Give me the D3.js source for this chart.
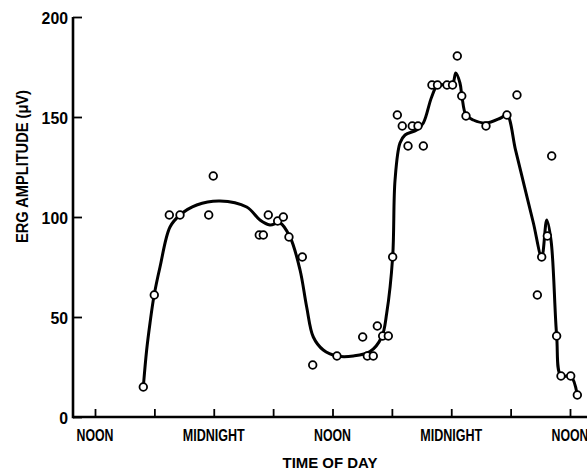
<!DOCTYPE html>
<html>
<head>
<meta charset="utf-8">
<script src="https://cdn.jsdelivr.net/npm/d3@7"></script>
<style>
  html, body { margin: 0; padding: 0; background: #fff; }
  svg text { font-family: "Liberation Sans Narrow", "Liberation Sans", Arial, sans-serif; font-weight: bold; fill: #000; }
</style>
</head>
<body>
<svg id="chart" width="587" height="473"></svg>
<script>
// Observed ERG amplitudes: hours after the first noon, amplitude in µV
const sampleHours = [4.88, 5.99, 7.51, 8.59, 11.49, 11.95, 16.60, 17.01, 17.51, 18.46, 19.03, 19.60,
  20.95, 22.0, 24.45, 27.05, 27.52, 28.12, 28.53, 29.07, 29.64, 30.08, 30.55, 31.05, 31.63, 32.06,
  32.64, 33.18, 34.05, 34.61, 35.57, 36.13, 36.61, 37.06, 37.49, 39.51, 41.63, 42.64, 44.70, 45.14,
  45.71, 46.15, 46.65, 47.09, 48.07, 48.74];
const sampleAmps = [15, 61, 101, 101, 101, 120.5, 91, 91, 101, 98, 100, 90,
  80, 26, 30.5, 40, 30.5, 30.5, 45.5, 40.5, 40.5, 80, 151, 145.5, 135.5, 145.5,
  145.5, 135.5, 166, 166, 166, 166, 180.5, 160.5, 150.5, 145.5, 151, 161, 61, 80,
  90.5, 130.5, 40.5, 20.5, 20.5, 11];

// Hand-fitted trend curve through the observations
const fitHours = [4.88, 5.22, 5.56, 5.96, 6.57, 7.58, 8.59, 10.28, 12.63, 15.33, 16.67, 17.68, 18.69,
  19.71, 20.72, 21.39, 22.06, 23.07, 24.45, 26.1, 27.79, 28.97, 29.48, 30.08, 30.32, 30.82, 31.33,
  32.51, 33.18, 34.02, 34.66, 36.07, 36.46, 36.88, 37.09, 37.49, 38.23, 39.51, 41.0, 41.63, 42.5,
  43.4, 44.3, 45.14, 45.65, 46.09, 46.65, 47.09, 48.07, 48.74];
const fitAmps = [15, 33.5, 47, 60.5, 75, 95, 101, 106, 108, 105, 98.5, 96, 97,
  90, 73.5, 55, 40, 33.5, 30.5, 30.5, 32.7, 40, 52, 80, 118.5, 137, 141,
  143.5, 147, 160, 166, 166, 172, 167, 160, 151, 148.5, 147, 149.5, 151, 133.4,
  115.2, 97.0, 80, 98.5, 88, 40.7, 20.5, 20.5, 11];

const xTickHours = [0, 6, 12, 18, 24, 30, 36, 42, 48];
const xTickLabels = {0: "NOON", 12: "MIDNIGHT", 24: "NOON", 36: "MIDNIGHT", 48: "NOON"};
const yTicks = [0, 50, 100, 150, 200];

const svg = d3.select("#chart");
const axisX0 = 73, axisXEnd = 587;

const x = d3.scaleLinear().domain([0, 48]).range([95, 570]);
const y = d3.scaleLinear().domain([0, 200]).range([417, 17]);

// axis lines
svg.append("line")
  .attr("x1", axisX0).attr("x2", axisXEnd)
  .attr("y1", y(0)).attr("y2", y(0))
  .attr("stroke", "#000").attr("stroke-width", 2.6);
svg.append("line")
  .attr("x1", axisX0).attr("x2", axisX0)
  .attr("y1", y(0) + 1.3).attr("y2", y(200))
  .attr("stroke", "#000").attr("stroke-width", 2.6);

// x axis ticks pointing inward
const xAxis = svg.append("g").attr("transform", `translate(0,${y(0)})`)
  .call(d3.axisBottom(x).tickValues(xTickHours).tickSize(-8).tickFormat(""));
xAxis.select(".domain").remove();
xAxis.selectAll(".tick line").attr("stroke", "#000").attr("stroke-width", 1.8);

svg.append("g").selectAll("text")
  .data(xTickHours.filter(h => xTickLabels[h]))
  .join("text")
  .attr("x", d => x(d))
  .attr("y", y(0) + 24)
  .attr("text-anchor", "middle")
  .attr("font-size", 16)
  .attr("textLength", d => xTickLabels[d] === "NOON" ? 37 : 62)
  .attr("lengthAdjust", "spacingAndGlyphs")
  .text(d => xTickLabels[d]);

// y axis ticks pointing inward
const yAxis = svg.append("g").attr("transform", `translate(${axisX0},0)`)
  .call(d3.axisRight(y).tickValues(yTicks).tickSize(9).tickFormat(""));
yAxis.select(".domain").remove();
yAxis.selectAll(".tick line").attr("stroke", "#000").attr("stroke-width", 1.8);

svg.append("g").selectAll("text")
  .data(yTicks)
  .join("text")
  .attr("x", axisX0 - 5)
  .attr("y", d => y(d) + 7)
  .attr("text-anchor", "end")
  .attr("font-size", 16)
  .attr("textLength", d => String(d).length * 8.8)
  .attr("lengthAdjust", "spacingAndGlyphs")
  .text(d => d);

// axis titles
svg.append("text")
  .attr("x", 330).attr("y", 468)
  .attr("text-anchor", "middle")
  .attr("font-size", 15)
  .attr("textLength", 95)
  .attr("lengthAdjust", "spacingAndGlyphs")
  .text("TIME OF DAY");

svg.append("text")
  .attr("transform", "translate(28,166.5) rotate(-90)")
  .attr("text-anchor", "middle")
  .attr("font-size", 16)
  .attr("textLength", 153)
  .attr("lengthAdjust", "spacingAndGlyphs")
  .text("ERG AMPLITUDE (\u03BCV)");

// trend curve
const fit = fitHours.map((h, i) => [h, fitAmps[i]]);
svg.append("path")
  .datum(fit)
  .attr("fill", "none")
  .attr("stroke", "#000")
  .attr("stroke-width", 3)
  .attr("stroke-linejoin", "round")
  .attr("d", d3.line().x(d => x(d[0])).y(d => y(d[1])).curve(d3.curveCatmullRom.alpha(0.5)));

// observations as open circles
const samples = sampleHours.map((h, i) => [h, sampleAmps[i]]);
svg.append("g").selectAll("circle")
  .data(samples)
  .join("circle")
  .attr("cx", d => x(d[0]))
  .attr("cy", d => y(d[1]))
  .attr("r", 3.8)
  .attr("fill", "#fff")
  .attr("stroke", "#000")
  .attr("stroke-width", 1.8);
</script>
</body>
</html>
